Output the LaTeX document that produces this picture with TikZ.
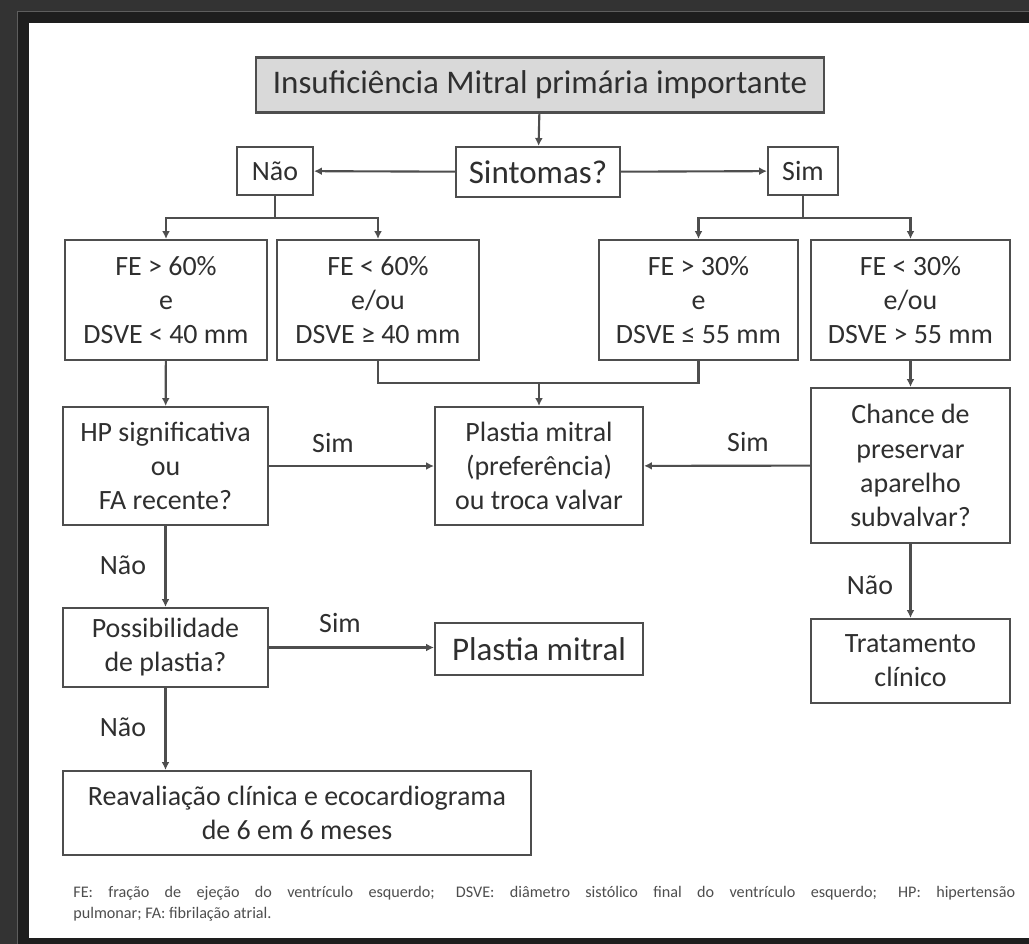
\documentclass[tikz,border=0pt]{standalone}
\usepackage{fontspec}
\setmainfont{Carlito}
\usetikzlibrary{arrows.meta}
\definecolor{framegray}{HTML}{333333}
\definecolor{framedark}{HTML}{1E1E1E}
\definecolor{frameline}{HTML}{5E5E5E}
\definecolor{boxline}{HTML}{4E4E4E}
\definecolor{txt}{HTML}{2F2F2F}
\definecolor{titlefill}{HTML}{D9D9D9}
\begin{document}
\begin{tikzpicture}[x=0.02cm,y=-0.02cm,
    caixa/.style={draw=boxline,line width=1.2pt,text=txt,align=center,inner sep=0pt,
      font=\fontsize{15.9}{19.4}\selectfont},
    grande/.style={font=\fontsize{18.8}{22}\selectfont},
    rotulo/.style={text=txt,inner sep=0pt,font=\fontsize{15.9}{19.4}\selectfont},
    seta/.style={draw=boxline,line width=1.2pt,-{Latex[length=4.5pt,width=4.5pt]}},
    linha/.style={draw=boxline,line width=1.2pt}]
  \useasboundingbox (0,0) rectangle (1029,944);
  \fill[framegray] (0,0) rectangle (1029,944);
  \fill[framedark] (17,11) rectangle (1029,944);
  \draw[frameline,line width=1pt] (17.5,944) -- (17.5,11.5) -- (1029,11.5);
  \fill[white] (29,23) rectangle (1029,938);

  \node[caixa,grande,fill=titlefill,minimum width=11.36cm,minimum height=1.10cm] (titulo) at (540,85) {Insuficiência Mitral primária importante};
  \node[caixa,grande,minimum width=3.28cm,minimum height=1.00cm] (sintomas) at (538,172) {Sintomas?};
  \node[caixa,minimum width=1.52cm,minimum height=0.96cm] (nao) at (275,171) {Não};
  \node[caixa,minimum width=1.40cm,minimum height=0.96cm] (sim) at (803,171) {Sim};
  \node[caixa,minimum width=4.04cm,minimum height=2.40cm] (feA) at (166,300) {FE > 60\%\\e\\DSVE < 40 mm};
  \node[caixa,minimum width=4.04cm,minimum height=2.40cm] (feB) at (378,300) {FE < 60\%\\e/ou\\DSVE ≥ 40 mm};
  \node[caixa,minimum width=3.98cm,minimum height=2.40cm] (feC) at (698.5,300) {FE > 30\%\\e\\DSVE ≤ 55 mm};
  \node[caixa,minimum width=3.98cm,minimum height=2.40cm] (feD) at (910.5,300) {FE < 30\%\\e/ou\\DSVE > 55 mm};
  \node[caixa,minimum width=4.10cm,minimum height=2.36cm] (hp) at (165.5,466) {HP significativa\\ou\\FA recente?};
  \node[caixa,minimum width=4.16cm,minimum height=2.36cm] (plastia) at (539,466) {Plastia mitral\\(preferência)\\ou troca valvar};
  \node[caixa,minimum width=3.98cm,minimum height=3.10cm] (chance) at (910.5,465.5) {Chance de\\preservar\\aparelho\\subvalvar?};
  \node[caixa,minimum width=4.10cm,minimum height=1.58cm] (possib) at (165.5,647.5) {Possibilidade\\de plastia?};
  \node[caixa,grande,minimum width=4.16cm,minimum height=1.04cm] (mitral) at (539,649) {Plastia mitral};
  \node[caixa,minimum width=3.98cm,minimum height=1.68cm] (trat) at (910.5,661) {Tratamento\\clínico};
  \node[caixa,minimum width=9.36cm,minimum height=1.68cm] (reaval) at (297,813) {Reavaliação clínica e ecocardiograma\\de 6 em 6 meses};

  \node[rotulo] (simA) at (333,443) {Sim};
  \node[rotulo] (simB) at (748,442) {Sim};
  \node[rotulo] (simC) at (340,623) {Sim};
  \node[rotulo] (naoA) at (123,565) {Não};
  \node[rotulo] (naoB) at (123,727) {Não};
  \node[rotulo] (naoC) at (870,585) {Não};

  \coordinate (ramoN) at (275,218);
  \coordinate (ramoS) at (803,218);
  \coordinate (junta) at (539,383);

  \draw[seta] (titulo) -- (sintomas);
  \draw[seta] (sintomas) -- (nao);
  \draw[seta] (sintomas) -- (sim);
  \draw[linha] (nao) -- (ramoN);
  \draw[seta] (ramoN) -| (feA.north);
  \draw[seta] (ramoN) -| (feB.north);
  \draw[linha] (sim) -- (ramoS);
  \draw[seta] (ramoS) -| (feC.north);
  \draw[seta] (ramoS) -| (feD.north);
  \draw[seta] (feA) -- (hp);
  \draw[linha] (feB.south) |- (junta);
  \draw[linha] (feC.south) |- (junta);
  \draw[seta] (junta) -- (plastia);
  \draw[seta] (feD) -- (chance);
  \draw[seta] (hp) -- (plastia);
  \draw[seta] (chance) -- (plastia);
  \draw[seta] (hp) -- (possib);
  \draw[seta] (possib.east) -- (possib.east -| mitral.west);
  \draw[seta] (possib.south) -- (possib.south |- reaval.north);
  \draw[seta] (chance) -- (trat);

  \node[anchor=north west,text width=18.84cm,align=justify,inner sep=0pt,text=txt!85,
    font=\fontsize{9.2}{12}\selectfont] (nota) at (73,886)
    {FE: fração de ejeção do ventrículo esquerdo; DSVE: diâmetro sistólico final do ventrículo esquerdo; HP: hipertensão\linebreak pulmonar; FA: fibrilação atrial.};
\end{tikzpicture}
\end{document}
